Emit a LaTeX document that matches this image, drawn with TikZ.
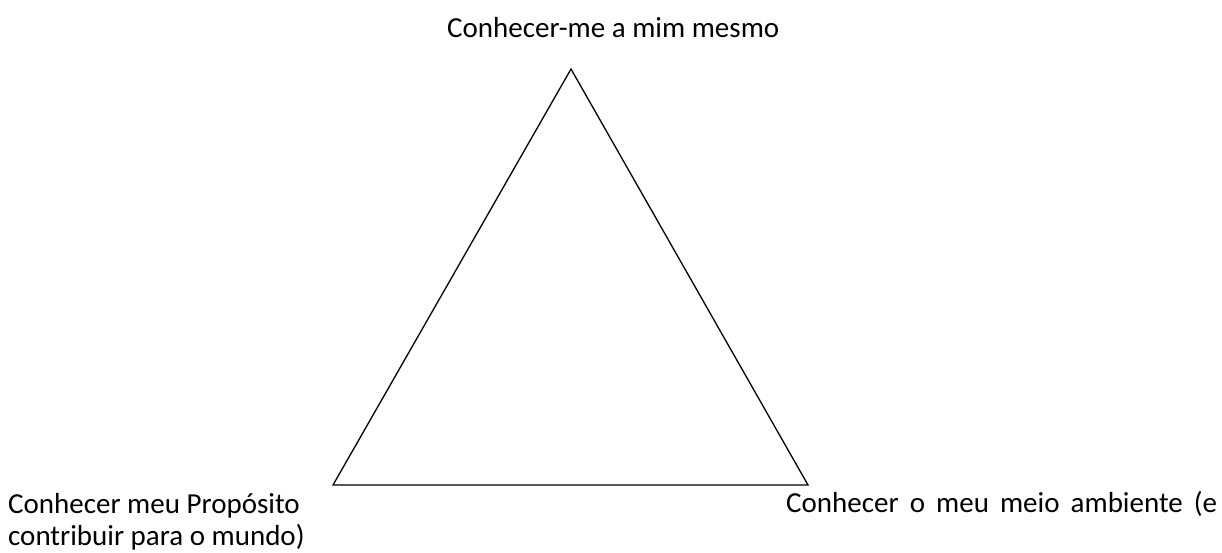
\documentclass[tikz,border=0pt]{standalone}
\usepackage{fontspec}
\setmainfont{Carlito}
\tikzset{
  label text/.style={inner sep=0pt, font=\fontsize{29}{32}\selectfont},
  side/.style={line width=1.3pt}
}
\begin{document}
\begin{tikzpicture}[x=1pt, y=-1pt]
\useasboundingbox (0,0) rectangle (1222,552);
\coordinate (apex) at (571,69);
\coordinate (bleft) at (333,485);
\coordinate (bright) at (808,485);
\draw[side] (apex) -- (bleft) -- (bright) -- cycle;
\node[label text, anchor=base west] (self) at (447,37) {Conhecer-me a mim mesmo};
\node[label text, anchor=base west, align=left] (purpose) at (8,545) {Conhecer meu Propósito\\contribuir para o mundo)};
\node[label text, anchor=base west] (world) at (786,512) {\makebox[431pt][s]{Conhecer o meu meio ambiente (e}};
\end{tikzpicture}
\end{document}
